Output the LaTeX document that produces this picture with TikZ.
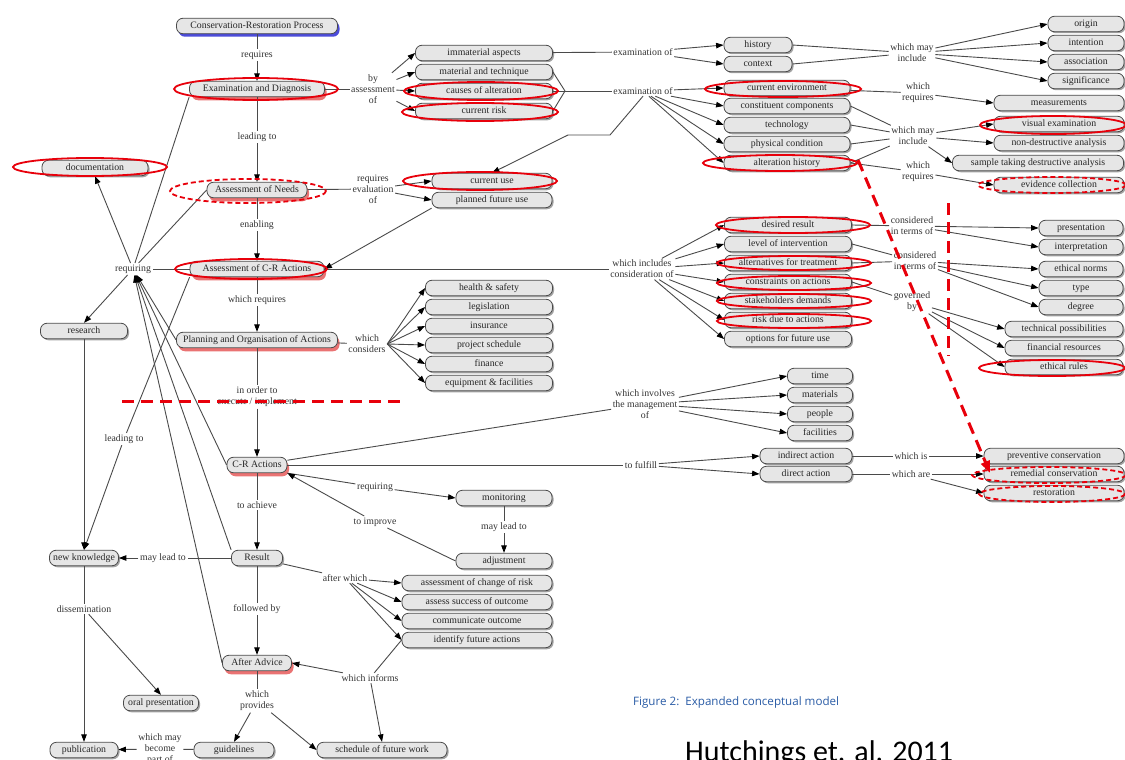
\documentclass[tikz,border=0pt]{standalone}
\usepackage{fontspec}
\setmainfont{Liberation Serif}
\newfontfamily\capfont{Open Sans}
\newfontfamily\bigfont{Carlito}
\usetikzlibrary{arrows.meta,shadows}
\definecolor{linegray}{HTML}{4A4A4A}
\definecolor{boxfill}{HTML}{E6E6E6}
\definecolor{markred}{HTML}{E8000B}
\definecolor{capblue}{HTML}{2A5CA6}
\begin{document}
\begin{tikzpicture}[x=1pt,y=-1pt,
  base/.style={draw=linegray, line width=0.8pt, fill=boxfill, rounded corners=6.5pt,
    minimum height=15.5pt, inner sep=1pt, text height=6.8pt, text depth=2pt,
    text=black!85, font=\fontsize{9.8}{10}\selectfont},
  gbox/.style={base, drop shadow={shadow xshift=1.5pt, shadow yshift=-1.5pt, fill=black!60, opacity=.6}},
  rbox/.style={base, drop shadow={shadow xshift=2pt, shadow yshift=-3.5pt, fill=red!85!black, opacity=.55}},
  bbox/.style={base, drop shadow={shadow xshift=2pt, shadow yshift=-3pt, fill=blue!80!black, opacity=.7}},
  lbl/.style={inner sep=1.5pt, align=center, text=black!80, font=\fontsize{9.8}{11}\selectfont},
  ln/.style={draw=linegray, line width=0.9pt},
  ar/.style={ln, -{Triangle[length=7.5pt,width=5.5pt,color=black]}},
  ring/.style={draw=markred, line width=1.8pt},
  dring/.style={ring, dash pattern=on 5pt off 3pt},
  redline/.style={draw=markred, line width=3pt, dash pattern=on 12pt off 7pt}
]
\useasboundingbox[fill=white] (0,0) rectangle (1125,760);

% ---------- main spine ----------
\node[bbox, minimum width=161pt] (cr)   at (257,26)  {Conservation-Restoration Process};
\node[rbox, minimum width=135pt] (ed)   at (257,89)  {Examination and Diagnosis};
\node[rbox, minimum width=100pt] (an)   at (257,190) {Assessment of Needs};
\node[rbox, minimum width=134pt] (acr)  at (257,269) {Assessment of C-R Actions};
\node[rbox, minimum width=161pt] (plan) at (257,340) {Planning and Organisation of Actions};
\node[rbox, minimum width=60pt]  (cra)  at (257,465) {C-R Actions};
\node[gbox, minimum width=51pt]  (res)  at (257,558) {Result};
\node[rbox, minimum width=69pt]  (aa)   at (257,663) {After Advice};
\node[gbox, minimum width=80pt]  (guid) at (234,750) {guidelines};
\node[gbox, minimum width=130pt] (sched) at (382,750) {schedule of future work};

% ---------- left column ----------
\node[gbox, minimum width=106pt] (doc)  at (95,168)  {documentation};
\node[gbox, minimum width=87pt]  (rsch) at (84,331)  {research};
\node[gbox, minimum width=69pt]  (nk)   at (84,558)  {new knowledge};
\node[gbox, minimum width=75pt]  (oral) at (161,703) {oral presentation};
\node[gbox, minimum width=68pt]  (pub)  at (84,750)  {publication};

% ---------- middle column ----------
\node[gbox, minimum width=137pt] (imm)  at (484,53)  {immaterial aspects};
\node[gbox, minimum width=137pt] (mat)  at (484,72)  {material and technique};
\node[gbox, minimum width=137pt] (cau)  at (484,91)  {causes of alteration};
\node[gbox, minimum width=137pt] (risk) at (484,111) {current risk};
\node[gbox, minimum width=120pt] (cuse) at (492,181) {current use};
\node[gbox, minimum width=120pt] (pfu)  at (492,200) {planned future use};
\node[gbox, minimum width=127pt] (hs)   at (489,288) {health \& safety};
\node[gbox, minimum width=127pt] (leg)  at (489,307) {legislation};
\node[gbox, minimum width=127pt] (ins)  at (489,326) {insurance};
\node[gbox, minimum width=127pt] (ps)   at (489,345) {project schedule};
\node[gbox, minimum width=127pt] (fin)  at (489,364) {finance};
\node[gbox, minimum width=127pt] (eq)   at (489,383) {equipment \& facilities};
\node[gbox, minimum width=96pt]  (mon)  at (504,498) {monitoring};
\node[gbox, minimum width=96pt]  (adj)  at (504,561) {adjustment};
\node[gbox, minimum width=150pt] (acor) at (477,583) {assessment of change of risk};
\node[gbox, minimum width=150pt] (aso)  at (477,602) {assess success of outcome};
\node[gbox, minimum width=150pt] (co)   at (477,621) {communicate outcome};
\node[gbox, minimum width=150pt] (ifa)  at (477,640) {identify future actions};

% ---------- right-middle column ----------
\node[gbox, minimum width=68pt]  (hist) at (758,45)  {history};
\node[gbox, minimum width=68pt]  (ctx)  at (758,64)  {context};
\node[gbox, minimum width=126pt] (cenv) at (787,88)  {current environment};
\node[gbox, minimum width=126pt] (cc)   at (787,106) {constituent components};
\node[gbox, minimum width=126pt] (tech) at (787,125) {technology};
\node[gbox, minimum width=126pt] (phys) at (787,144) {physical condition};
\node[gbox, minimum width=126pt] (alth) at (787,163) {alteration history};
\node[gbox, minimum width=127pt] (dr)   at (788,225) {desired result};
\node[gbox, minimum width=127pt] (li)   at (788,244) {level of intervention};
\node[gbox, minimum width=127pt] (alt)  at (788,263) {alternatives for treatment};
\node[gbox, minimum width=127pt] (con)  at (788,282) {constraints on actions};
\node[gbox, minimum width=127pt] (sd)   at (788,301) {stakeholders demands};
\node[gbox, minimum width=127pt] (rda)  at (788,320) {risk due to actions};
\node[gbox, minimum width=127pt] (ofu)  at (788,339) {options for future use};
\node[gbox, minimum width=65pt]  (tim)  at (820,376) {time};
\node[gbox, minimum width=65pt]  (mats) at (820,395) {materials};
\node[gbox, minimum width=65pt]  (ppl)  at (820,414) {people};
\node[gbox, minimum width=65pt]  (fac)  at (820,433) {facilities};
\node[gbox, minimum width=92pt]  (ia)   at (806,456) {indirect action};
\node[gbox, minimum width=92pt]  (da)   at (806,474) {direct action};

% ---------- right column ----------
\node[gbox, minimum width=76pt]  (org)  at (1086,24)  {origin};
\node[gbox, minimum width=76pt]  (int)  at (1086,43)  {intention};
\node[gbox, minimum width=76pt]  (ass)  at (1086,62)  {association};
\node[gbox, minimum width=76pt]  (sig)  at (1086,81)  {significance};
\node[gbox, minimum width=130pt] (meas) at (1059,103) {measurements};
\node[gbox, minimum width=130pt] (visx) at (1059,124) {visual examination};
\node[gbox, minimum width=130pt] (nda)  at (1059,143) {non-destructive analysis};
\node[gbox, minimum width=171pt] (samp) at (1038,163) {sample taking destructive analysis};
\node[gbox, minimum width=130pt] (evid) at (1059,185) {evidence collection};
\node[gbox, minimum width=84pt]  (pres) at (1081,228) {presentation};
\node[gbox, minimum width=84pt]  (interp) at (1081,247) {interpretation};
\node[gbox, minimum width=84pt]  (en)   at (1081,269) {ethical norms};
\node[gbox, minimum width=84pt]  (typ)  at (1081,288) {type};
\node[gbox, minimum width=84pt]  (deg)  at (1081,307) {degree};
\node[gbox, minimum width=118pt] (tp)   at (1064,329) {technical possibilities};
\node[gbox, minimum width=118pt] (fr)   at (1064,348) {financial resources};
\node[gbox, minimum width=118pt] (er)   at (1064,367) {ethical rules};
\node[gbox, minimum width=140pt] (pc)   at (1054,456) {preventive conservation};
\node[gbox, minimum width=140pt] (rc)   at (1054,474) {remedial conservation};
\node[gbox, minimum width=140pt] (rst)  at (1054,493) {restoration};

% ---------- linking phrases ----------
\node[lbl] (lreq)   at (257,55)  {requires};
\node[lbl] (llead)  at (257,137) {leading to};
\node[lbl] (lenab)  at (257,225) {enabling};
\node[lbl] (lwreq)  at (257,300) {which requires};
\node[lbl] (lorder) at (257,397) {in order to\\execute / implement};
\node[lbl] (lach)   at (257,505) {to achieve};
\node[lbl] (lfol)   at (257,609) {followed by};
\node[lbl] (lprov)  at (257,701) {which\\provides};
\node[lbl] (lbec)   at (160,749) {which may\\become\\part of};
\node[lbl] (ldis)   at (84,609)  {dissemination};
\node[lbl] (lmay)   at (163,558) {may lead to};
\node[lbl] (lleadto) at (124,439) {leading to};
\node[lbl] (lreqg)  at (133,269) {requiring};
\node[lbl] (lby)    at (373,89)  {by\\assessment\\of};
\node[lbl] (leval)  at (373,189) {requires\\evaluation\\of};
\node[lbl] (lcons)  at (367,344) {which\\considers};
\node[lbl] (lex1)   at (643,52)  {examination of};
\node[lbl] (lex2)   at (643,91)  {examination of};
\node[lbl] (lwmi1)  at (912,53)  {which may\\include};
\node[lbl] (lwr1)   at (918,93)  {which\\requires};
\node[lbl] (lwmi2)  at (913,136) {which may\\include};
\node[lbl] (lwr2)   at (918,172) {which\\requires};
\node[lbl] (lwic)   at (642,269) {which includes\\consideration of};
\node[lbl] (lcit1)  at (912,226) {considered\\in terms of};
\node[lbl] (lcit2)  at (915,261) {considered\\in terms of};
\node[lbl] (lgov)   at (912,302) {governed\\by};
\node[lbl] (linv)   at (645,404) {which involves\\the management\\of};
\node[lbl] (lful)   at (641,465) {to fulfill};
\node[lbl] (lis)    at (911,456) {which is};
\node[lbl] (lare)   at (911,474) {which are};
\node[lbl] (lreq2)  at (375,487) {requiring};
\node[lbl] (limp)   at (375,522) {to improve};
\node[lbl] (lml2)   at (504,527) {may lead to};
\node[lbl] (laft)   at (345,578) {after which};
\node[lbl] (linf)   at (370,678) {which informs};

% ---------- connectors: main spine ----------
\draw[ln] (cr) -- (lreq);    \draw[ar] (lreq) -- (ed);
\draw[ln] (ed) -- (llead);   \draw[ar] (llead) -- (an);
\draw[ln] (an) -- (lenab);   \draw[ar] (lenab) -- (acr);
\draw[ln] (acr) -- (lwreq);  \draw[ar] (lwreq) -- (plan);
\draw[ln] (plan) -- (lorder);\draw[ar] (lorder) -- (cra);
\draw[ln] (cra) -- (lach);   \draw[ar] (lach) -- (res);
\draw[ln] (res) -- (lfol);   \draw[ar] (lfol) -- (aa);
\draw[ln] (aa) -- (lprov);   \draw[ar] (lprov) -- (guid.north); \draw[ar] (lprov) -- (sched.west);

% ---------- connectors: left side ----------
\draw[ln] (guid) -- (lbec);  \draw[ar] (lbec) -- (pub);
\draw[ln] (nk) -- (ldis);    \draw[ar] (ldis) -- (pub); \draw[ar] (ldis) -- (oral.north);
\draw[ln] (res) -- (lmay);   \draw[ar] (lmay) -- (nk);
\draw[ar] (rsch) -- (nk);
\draw[ln] (acr.south west) -- (lleadto); \draw[ar] (lleadto) -- (nk.north);
\draw[ln] (ed.south west) -- (lreqg);
\draw[ln] (an.west) -- (lreqg);
\draw[ln] (acr) -- (lreqg);
\draw[ar] (lreqg) -- (doc.south);
\draw[ar] (lreqg) -- (rsch.north);
\draw[ar] (plan.west) -- (lreqg);
\draw[ar] (cra.west) -- (lreqg);
\draw[ar] (res.north west) -- (lreqg);
\draw[ar] (aa.west) -- (lreqg);

% ---------- connectors: assessment branches ----------
\draw[ln] (ed) -- (lby);
\foreach \t in {imm,mat,cau,risk} \draw[ar] (lby) -- (\t.west);
\draw[ln] (an) -- (leval);
\draw[ar] (leval) -- (cuse.west); \draw[ar] (leval) -- (pfu.west);
\draw[ar] (pfu.south west) -- (acr.east);
\draw[ln] (plan) -- (lcons);
\foreach \t in {hs,leg,ins,ps,fin,eq} \draw[ar] (lcons.east) -- (\t.west);

% ---------- connectors: examination ----------
\draw[ln] (imm) -- (lex1);
\draw[ar] (lex1) -- (hist.west); \draw[ar] (lex1) -- (ctx.west);
\coordinate (mrg) at (565,91);
\draw[ln] (mat.east) -- (mrg); \draw[ln] (cau.east) -- (mrg); \draw[ln] (risk.east) -- (mrg);
\draw[ln] (mrg) -- (lex2);
\foreach \t in {cenv,cc,tech,phys,alth} \draw[ar] (lex2) -- (\t.west);
\coordinate (bA) at (610,135); \coordinate (bB) at (568,135);
\draw[ar] (lex2.south) -- (bA) -- (bB) -- (cuse.north);
\draw[ln] (hist.east) -- (lwmi1); \draw[ln] (ctx.east) -- (lwmi1);
\foreach \t in {org,int,ass,sig} \draw[ar] (lwmi1) -- (\t.west);
\draw[ln] (cenv) -- (lwr1); \draw[ar] (lwr1) -- (meas.west);
\foreach \s in {cc,tech,phys,alth} \draw[ln] (\s.east) -- (lwmi2);
\foreach \t in {visx,nda,samp} \draw[ar] (lwmi2) -- (\t.west);
\draw[ln] (alth.east) -- (lwr2); \draw[ar] (lwr2) -- (evid.west);

% ---------- connectors: C-R action assessment ----------
\draw[ln] (acr) -- (lwic);
\foreach \t in {dr,li,alt,con,sd,rda,ofu} \draw[ar] (lwic) -- (\t.west);
\draw[ln] (dr.east) -- (lcit1);
\draw[ar] (lcit1) -- (pres.west); \draw[ar] (lcit1) -- (interp.west);
\draw[ln] (li.east) -- (lcit2); \draw[ln] (alt.east) -- (lcit2);
\foreach \t in {en,typ,deg} \draw[ar] (lcit2) -- (\t.west);
\draw[ln] (con.east) -- (lgov);
\foreach \t in {tp,fr,er} \draw[ar] (lgov) -- (\t.west);

% ---------- connectors: C-R actions ----------
\draw[ln] (cra) -- (linv);
\foreach \t in {tim,mats,ppl,fac} \draw[ar] (linv) -- (\t.west);
\draw[ln] (cra) -- (lful);
\draw[ar] (lful) -- (ia.west); \draw[ar] (lful) -- (da.west);
\draw[ln] (ia) -- (lis);  \draw[ar] (lis) -- (pc);
\draw[ln] (da) -- (lare); \draw[ar] (lare) -- (rc.west); \draw[ar] (lare) -- (rst.west);
\draw[ln] (cra.south east) -- (lreq2); \draw[ar] (lreq2) -- (mon.west);
\draw[ln] (mon) -- (lml2); \draw[ar] (lml2) -- (adj);
\draw[ln] (adj.west) -- (limp); \draw[ar] (limp) -- (cra.south east);

% ---------- connectors: result ----------
\draw[ln] (res) -- (laft);
\foreach \t in {acor,aso,co,ifa} \draw[ar] (laft) -- (\t.west);
\draw[ln] (ifa.west) -- (linf);
\draw[ar] (linf) -- (aa.east); \draw[ar] (linf) -- (sched.north);

% ---------- red markings ----------
\draw[ring]  (256,89)  ellipse [x radius=82, y radius=11];
\draw[ring]  (90,167)  ellipse [x radius=77, y radius=9];
\draw[dring] (248,191) ellipse [x radius=78, y radius=12];
\draw[ring]  (251,269) ellipse [x radius=76, y radius=10];
\draw[ring]  (481,91)  ellipse [x radius=77, y radius=9];
\draw[ring]  (480,112) ellipse [x radius=78, y radius=9];
\draw[ring]  (480,181) ellipse [x radius=77, y radius=9];
\draw[ring]  (783,89)  ellipse [x radius=78, y radius=8];
\draw[ring]  (780,163) ellipse [x radius=77, y radius=8];
\draw[ring]  (1053,125) ellipse [x radius=73, y radius=9];
\draw[dring] (1052,185) ellipse [x radius=74, y radius=8];
\draw[ring]  (793,225) ellipse [x radius=77, y radius=8];
\draw[ring]  (794,263) ellipse [x radius=77, y radius=7];
\draw[ring]  (794,283) ellipse [x radius=77, y radius=7];
\draw[ring]  (794,301) ellipse [x radius=77, y radius=7];
\draw[ring]  (794,321) ellipse [x radius=77, y radius=7];
\draw[ring]  (1052,368) ellipse [x radius=73, y radius=8];
\draw[dring] (1049,475) ellipse [x radius=77, y radius=8];
\draw[dring] (1052,494) ellipse [x radius=73, y radius=8];
\draw[redline] (122,401) -- (402,401);
\draw[redline] (948,203) -- (948,356);
\draw[redline, -{Triangle[length=12pt,width=9pt]}] (858,160) -- (990,473);

% ---------- captions ----------
\node[anchor=west, inner sep=0, text=capblue, font=\capfont\fontsize{11.6}{13}\selectfont] (cap) at (633,702) {Figure 2:\ \ Expanded conceptual model};
\node[anchor=base west, inner sep=0, font=\bigfont\fontsize{30}{32}\selectfont] (cite) at (685,761) {Hutchings et. al. 2011};
\end{tikzpicture}
\end{document}
